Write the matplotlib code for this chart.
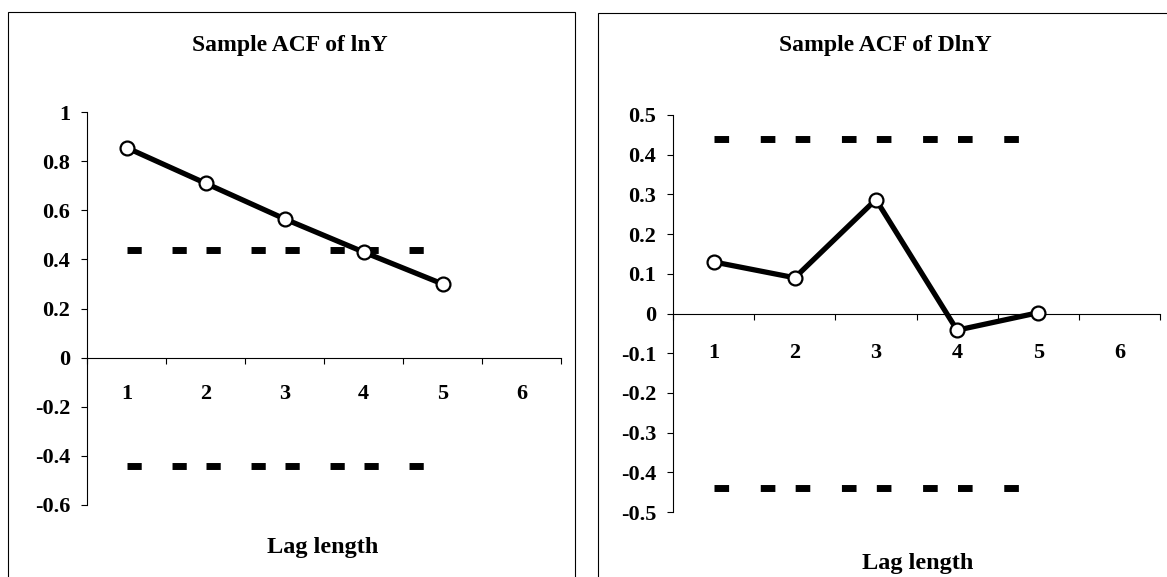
# Sample ACF plots of lnY and DlnY
import numpy as np
import matplotlib.pyplot as plt
from matplotlib.patches import Rectangle

# Data
lags = [1, 2, 3, 4, 5]
lag_labels = ['1', '2', '3', '4', '5', '6']
acf_lny = [0.855, 0.71, 0.565, 0.43, 0.30]
acf_dlny = [0.13, 0.09, 0.287, -0.042, 0.002]
crit = 0.44

yticks_lny = [-0.6, -0.4, -0.2, 0, 0.2, 0.4, 0.6, 0.8, 1]
ylabels_lny = ['-0.6', '-0.4', '-0.2', '0', '0.2', '0.4', '0.6', '0.8', '1']
yticks_dlny = [-0.5, -0.4, -0.3, -0.2, -0.1, 0, 0.1, 0.2, 0.3, 0.4, 0.5]
ylabels_dlny = ['-0.5', '-0.4', '-0.3', '-0.2', '-0.1', '0', '0.1', '0.2', '0.3', '0.4', '0.5']

plt.rcParams['font.family'] = ['Liberation Serif', 'DejaVu Serif']
plt.rcParams['font.weight'] = 'bold'
plt.rcParams['lines.scale_dashes'] = False

W, H = 1167, 577
fig = plt.figure(figsize=(W / 100, H / 100), dpi=100)

# panel frames (pixel boxes)
for x0, x1, top in [(8, 575, 12), (598, 1180, 13)]:
    fig.patches.append(Rectangle((x0 / W, -0.02), (x1 - x0) / W, 1 - top / H + 0.02,
                                 transform=fig.transFigure, fill=False,
                                 edgecolor='black', linewidth=0.8))


def acf_panel(rect, values, yticks, ylabels, title, title_x, xlab_xy, xpad):
    ax = fig.add_axes(rect)
    ax.set_xlim(0.5, 6.5)
    ax.set_ylim(yticks[0], yticks[-1])
    for s in ['top', 'right']:
        ax.spines[s].set_visible(False)
    ax.spines['bottom'].set_position(('data', 0))
    ax.spines['left'].set_linewidth(0.8)
    ax.spines['bottom'].set_linewidth(0.8)

    ax.set_yticks(yticks)
    ax.set_yticklabels(ylabels, fontsize=16, fontweight='bold')
    ax.tick_params(axis='y', direction='out', length=4, width=0.8, pad=8)

    # tick marks between categories, labels on categories
    ax.set_xticks(np.arange(0.5, 7, 1))
    ax.set_xticklabels([])
    ax.tick_params(axis='x', which='major', direction='out', length=4, width=0.8)
    ax.set_xticks(np.arange(1, 7), minor=True)
    ax.set_xticklabels(lag_labels, minor=True, fontsize=16, fontweight='bold')
    ax.tick_params(axis='x', which='minor', length=0, pad=xpad)

    # dash pattern sized in category units
    cat_pt = rect[2] * W / 6 * 0.72
    pattern = (0, (0.18 * cat_pt, 0.39 * cat_pt, 0.18 * cat_pt, 0.25 * cat_pt))
    ax.plot(lags, [crit] * len(lags), color='black', linewidth=5, linestyle=pattern,
            dash_capstyle='butt', clip_on=False)
    ax.plot(lags, [-crit] * len(lags), color='black', linewidth=5, linestyle=pattern,
            dash_capstyle='butt', clip_on=False)

    ax.plot(lags, values, color='black', linewidth=3.8, marker='o', markersize=10,
            markerfacecolor='white', markeredgecolor='black', markeredgewidth=1.6,
            clip_on=False, zorder=5)

    fig.text(title_x / W, 1 - 45 / H, title, ha='center', va='center',
             fontsize=17, fontweight='bold')
    fig.text(xlab_xy[0] / W, 1 - xlab_xy[1] / H, 'Lag length', ha='center', va='center',
             fontsize=17.5, fontweight='bold')
    return ax


acf_panel([87 / W, 1 - 505 / H, (561 - 87) / W, 393 / H], acf_lny,
          yticks_lny, ylabels_lny, 'Sample ACF of lnY', 290, (323, 548), 19)
acf_panel([673 / W, 1 - 512 / H, (1160 - 673) / W, 397 / H], acf_dlny,
          yticks_dlny, ylabels_dlny, 'Sample ACF of DlnY', 885, (918, 563), 21)

plt.savefig('out.png', dpi=100)
